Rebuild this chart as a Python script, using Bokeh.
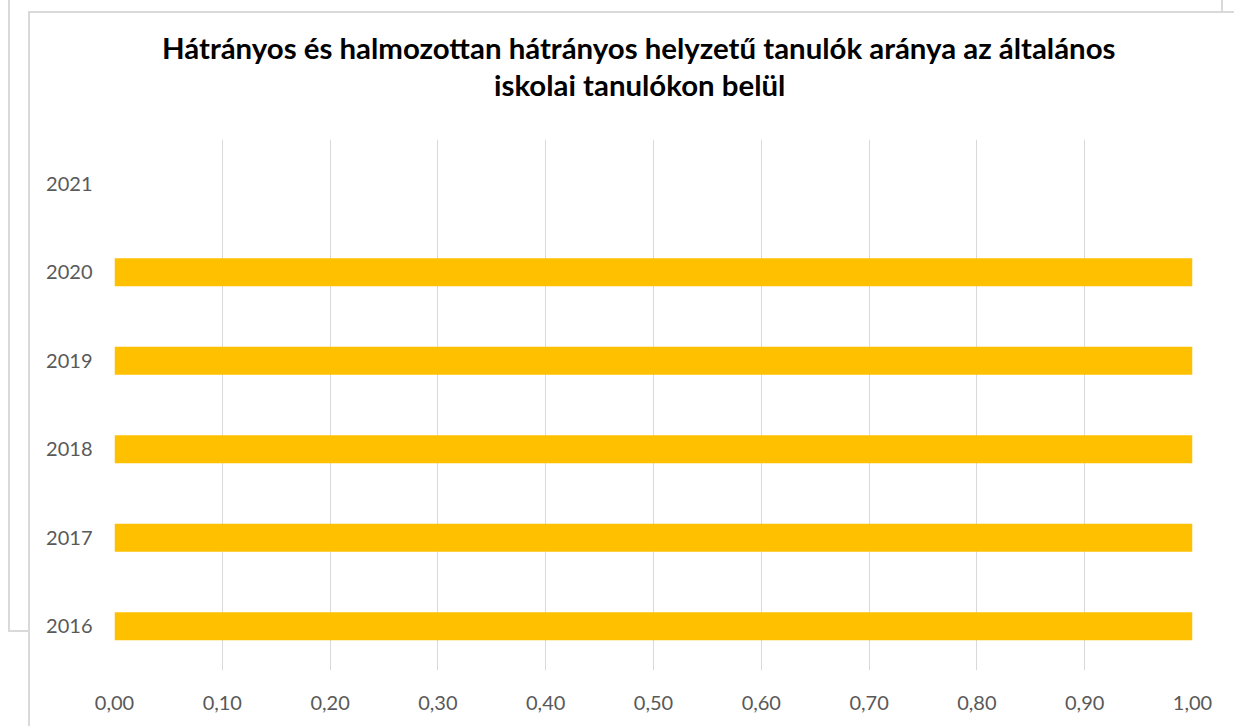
from bokeh.plotting import figure
from bokeh.models import (FactorRange, Range1d, FixedTicker, CustomJSTickFormatter,
                          LinearAxis, Title)
from bokeh.embed import file_html
from bokeh.resources import INLINE

title_lines = ["Hátrányos és halmozottan hátrányos helyzetű  tanulók aránya az általános",
               "iskolai tanulókon belül"]
years = ["2016", "2017", "2018", "2019", "2020", "2021"]
values = [1.00, 1.00, 1.00, 1.00, 1.00, float("nan")]
x_ticks = [0.0, 0.1, 0.2, 0.3, 0.4, 0.5, 0.6, 0.7, 0.8, 0.9, 1.0]
x_tick_labels = ["0,00", "0,10", "0,20", "0,30", "0,40", "0,50",
                 "0,60", "0,70", "0,80", "0,90", "1,00"]

FONT = "Lato"
LABEL_COLOR = "#595959"
BORDER = "#d9d9d9"

p = figure(width=1234, height=726, output_backend="svg", toolbar_location=None,
           y_range=FactorRange(*years), x_range=Range1d(0, 1.0),
           title=title_lines[0],
           min_border_left=114, min_border_right=42, min_border_top=139,
           min_border_bottom=56)

p.hbar(y=years, right=values, left=0, height=0.315, color="#FFC000", line_color=None)

p.outline_line_color = None
p.background_fill_color = "white"
p.border_fill_color = None
p.ygrid.grid_line_color = None
p.xgrid.grid_line_color = BORDER
p.xgrid.grid_line_width = 1

p.xaxis.ticker = FixedTicker(ticks=x_ticks)
p.xaxis.formatter = CustomJSTickFormatter(args=dict(tvals=x_ticks, tlabels=x_tick_labels), code="""
let best = 0;
for (let i = 0; i < tvals.length; i++) {
  if (Math.abs(tvals[i] - tick) < Math.abs(tvals[best] - tick)) best = i;
}
return tlabels[best];
""")

for ax in (p.xaxis, p.yaxis):
    ax.axis_line_color = None
    ax.major_tick_line_color = None
    ax.minor_tick_line_color = None
    ax.major_tick_out = 0
    ax.major_tick_in = 0
    ax.minor_tick_out = 0
    ax.minor_tick_in = 0
    ax.major_label_text_font = FONT
    ax.major_label_text_font_size = "20px"
    ax.major_label_text_color = LABEL_COLOR
p.xaxis.major_label_standoff = 25
p.yaxis.major_label_standoff = 22

# title: two lines; a blank top axis keeps the gap to the plot area
title_kw = dict(align="left", vertical_align="bottom", text_font=FONT,
                text_font_style="bold", text_font_size="29.4px", text_color="#000000")
p.title.update(standoff=0, offset=47.5, **title_kw)
spacer = LinearAxis(ticker=FixedTicker(ticks=[0.5]), axis_line_color=None,
                    formatter=CustomJSTickFormatter(code="return '';"),
                    major_tick_out=38, major_tick_in=0, minor_tick_out=0, minor_tick_in=0,
                    major_label_standoff=0, major_label_text_font_size="1px",
                    major_label_text_color="#ffffff",
                    major_tick_line_color="#ffffff", minor_tick_line_color=None)
p.add_layout(spacer, "above")
p.add_layout(Title(text=title_lines[1], standoff=0, offset=379.5, **title_kw), "above")

# chart-area border (and the edge of a chart lying behind it)
g = f"linear-gradient({BORDER},{BORDER})"
p.styles = {"background": ", ".join([
    f"{g} 28px 11px / 2px 720px no-repeat",
    f"{g} 28px 11px / 1210px 2px no-repeat",
    f"{g} 8px 0px / 2px 632px no-repeat",
    f"{g} 8px 630px / 21px 2px no-repeat",
    f"{g} 1221px 0px / 2px 12px no-repeat",
    "#ffffff"])}

open("out.html", "w").write(file_html(p, INLINE))
